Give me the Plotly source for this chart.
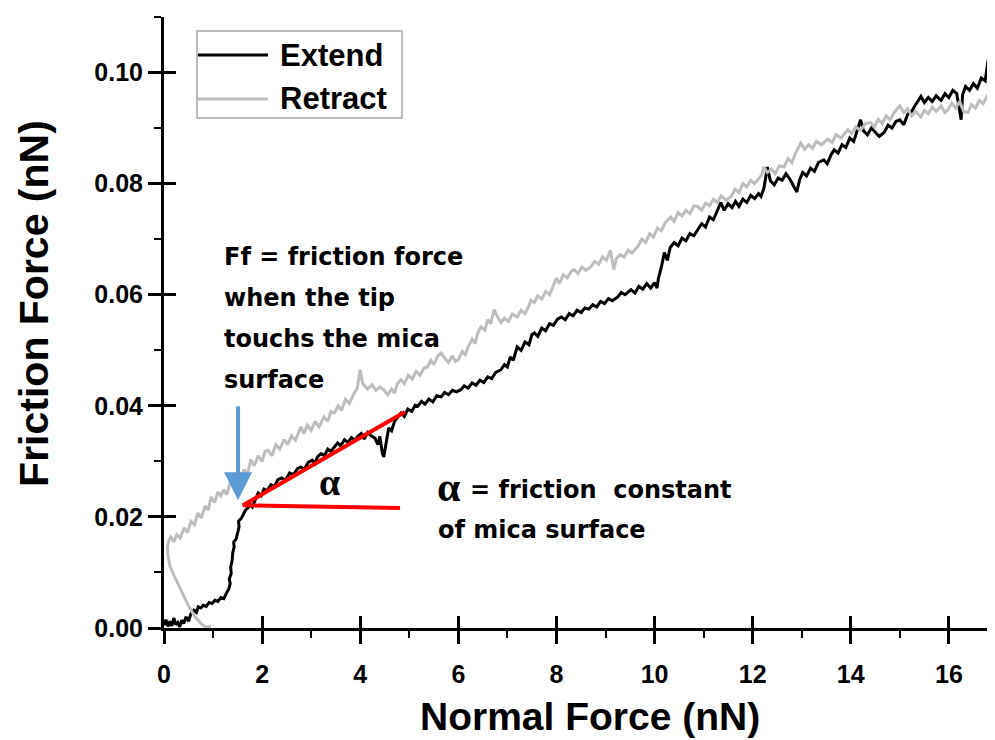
import plotly.graph_objects as go

# ---------------- data ----------------
extend_x = [0.00, 0.04, 0.08, 0.12, 0.16, 0.20, 0.24, 0.28, 0.32, 0.36, 0.40, 0.45, 0.50, 0.55, 0.61, 0.66, 0.70, 0.75,
            0.80, 0.86, 0.92, 0.98, 1.04, 1.10, 1.16, 1.22, 1.28, 1.32, 1.35, 1.33, 1.37, 1.36, 1.39, 1.40, 1.43, 1.42,
            1.47, 1.50, 1.53, 1.52, 1.58, 1.62, 1.66, 1.71, 1.76, 1.80, 1.86, 1.92, 1.98, 2.04, 2.10, 2.18, 2.25, 2.32,
            2.40, 2.48, 2.56, 2.64, 2.72, 2.79, 2.86, 2.94, 3.02, 3.08, 3.13, 3.20, 3.27, 3.34, 3.40, 3.47, 3.54, 3.60,
            3.68, 3.75, 3.82, 3.90, 3.95, 4.02, 4.08, 4.15, 4.22, 4.30, 4.36, 4.40, 4.45, 4.48, 4.52, 4.58, 4.64, 4.70,
            4.77, 4.83, 4.90, 4.97, 5.05, 5.12, 5.17, 5.25, 5.32, 5.40, 5.48, 5.56, 5.65, 5.72, 5.80, 5.88, 5.96, 6.05,
            6.12, 6.20, 6.28, 6.36, 6.44, 6.52, 6.60, 6.68, 6.76, 6.87, 6.94, 7.00, 7.06, 7.12, 7.20, 7.28, 7.36, 7.44,
            7.50, 7.55, 7.62, 7.70, 7.78, 7.86, 7.94, 8.02, 8.10, 8.18, 8.26, 8.34, 8.42, 8.50, 8.58, 8.66, 8.74, 8.82,
            8.90, 8.98, 9.06, 9.14, 9.25, 9.32, 9.40, 9.52, 9.60, 9.68, 9.76, 9.84, 9.92, 10.00, 10.05, 10.08, 10.14,
            10.20, 10.26, 10.32, 10.40, 10.48, 10.56, 10.64, 10.72, 10.80, 10.88, 10.96, 11.04, 11.12, 11.20, 11.28,
            11.35, 11.42, 11.50, 11.58, 11.65, 11.72, 11.80, 11.88, 11.96, 12.04, 12.12, 12.17, 12.23, 12.30, 12.36,
            12.44, 12.52, 12.60, 12.68, 12.76, 12.84, 12.90, 12.96, 13.02, 13.10, 13.18, 13.26, 13.34, 13.45, 13.52,
            13.60, 13.66, 13.74, 13.82, 13.90, 13.98, 14.06, 14.14, 14.20, 14.26, 14.34, 14.42, 14.50, 14.58, 14.68,
            14.76, 14.84, 14.92, 15.00, 15.08, 15.16, 15.24, 15.32, 15.43, 15.50, 15.58, 15.66, 15.74, 15.84, 15.92,
            16.00, 16.08, 16.16, 16.22, 16.25, 16.28, 16.34, 16.42, 16.50, 16.58, 16.66, 16.74, 16.80, 16.86, 16.92,
            16.98]
extend_y = [0.0005, 0.0015, 0.0003, 0.0012, 0.0004, 0.0018, 0.0006, 0.0010, 0.0002, 0.0014, 0.0008, 0.0020, 0.0012,
            0.0026, 0.0032, 0.0028, 0.0038, 0.0036, 0.0041, 0.0039, 0.0046, 0.0044, 0.0050, 0.0048, 0.0055, 0.0053,
            0.0064, 0.0070, 0.0080, 0.0088, 0.0098, 0.0110, 0.0122, 0.0135, 0.0146, 0.0155, 0.0160, 0.0172, 0.0182,
            0.0192, 0.0198, 0.0205, 0.0212, 0.0216, 0.0222, 0.0218, 0.0232, 0.0243, 0.0238, 0.0250, 0.0247, 0.0258,
            0.0255, 0.0267, 0.0270, 0.0266, 0.0279, 0.0276, 0.0287, 0.0290, 0.0286, 0.0298, 0.0302, 0.0296, 0.0308,
            0.0314, 0.0310, 0.0322, 0.0318, 0.0326, 0.0333, 0.0328, 0.0339, 0.0334, 0.0343, 0.0338, 0.0345, 0.0350,
            0.0340, 0.0352, 0.0346, 0.0342, 0.0330, 0.0345, 0.0315, 0.0308, 0.0330, 0.0360, 0.0355, 0.0372, 0.0380,
            0.0387, 0.0381, 0.0394, 0.0390, 0.0401, 0.0399, 0.0408, 0.0403, 0.0412, 0.0407, 0.0418, 0.0416, 0.0424,
            0.0420, 0.0428, 0.0425, 0.0429, 0.0436, 0.0432, 0.0441, 0.0437, 0.0446, 0.0442, 0.0452, 0.0449, 0.0460,
            0.0465, 0.0474, 0.0470, 0.0488, 0.0482, 0.0506, 0.0500, 0.0515, 0.0510, 0.0528, 0.0531, 0.0525, 0.0540,
            0.0535, 0.0548, 0.0545, 0.0556, 0.0560, 0.0555, 0.0566, 0.0562, 0.0572, 0.0568, 0.0576, 0.0574, 0.0582,
            0.0578, 0.0588, 0.0584, 0.0593, 0.0589, 0.0596, 0.0604, 0.0600, 0.0609, 0.0603, 0.0615, 0.0610, 0.0620,
            0.0612, 0.0622, 0.0612, 0.0630, 0.0650, 0.0676, 0.0662, 0.0685, 0.0694, 0.0688, 0.0702, 0.0697, 0.0710,
            0.0706, 0.0717, 0.0728, 0.0722, 0.0740, 0.0735, 0.0752, 0.0766, 0.0752, 0.0764, 0.0757, 0.0768, 0.0759,
            0.0772, 0.0766, 0.0779, 0.0773, 0.0782, 0.0777, 0.0792, 0.0830, 0.0805, 0.0798, 0.0810, 0.0806, 0.0818,
            0.0808, 0.0795, 0.0785, 0.0808, 0.0820, 0.0814, 0.0828, 0.0822, 0.0838, 0.0843, 0.0836, 0.0852, 0.0861,
            0.0855, 0.0870, 0.0865, 0.0882, 0.0876, 0.0898, 0.0915, 0.0895, 0.0888, 0.0900, 0.0893, 0.0885, 0.0892,
            0.0905, 0.0900, 0.0912, 0.0915, 0.0906, 0.0925, 0.0930, 0.0942, 0.0957, 0.0946, 0.0955, 0.0948, 0.0958,
            0.0950, 0.0962, 0.0955, 0.0968, 0.0962, 0.0930, 0.0915, 0.0960, 0.0975, 0.0968, 0.0980, 0.0972, 0.0990,
            0.0985, 0.1023, 0.0995, 0.0987, 0.0992]

retract_x = [0.96, 0.85, 0.75, 0.62, 0.50, 0.41, 0.30, 0.20, 0.12, 0.08, 0.07, 0.10, 0.14, 0.20, 0.26, 0.33, 0.41, 0.48,
             0.55, 0.62, 0.69, 0.76, 0.84, 0.90, 0.96, 1.03, 1.10, 1.16, 1.22, 1.28, 1.35, 1.42, 1.50, 1.56, 1.63, 1.70,
             1.77, 1.84, 1.92, 2.00, 2.06, 2.12, 2.20, 2.28, 2.36, 2.45, 2.52, 2.60, 2.68, 2.79, 2.85, 2.92, 3.00, 3.08,
             3.16, 3.26, 3.34, 3.40, 3.47, 3.55, 3.62, 3.70, 3.78, 3.86, 3.94, 4.00, 4.05, 4.15, 4.24, 4.32, 4.40, 4.48,
             4.56, 4.64, 4.70, 4.76, 4.83, 4.90, 4.98, 5.06, 5.14, 5.22, 5.30, 5.37, 5.44, 5.50, 5.58, 5.65, 5.72, 5.80,
             5.88, 5.94, 6.00, 6.08, 6.14, 6.20, 6.28, 6.34, 6.40, 6.46, 6.54, 6.60, 6.66, 6.73, 6.80, 6.87, 6.94, 7.02,
             7.10, 7.20, 7.28, 7.36, 7.44, 7.48, 7.55, 7.62, 7.70, 7.78, 7.86, 7.92, 8.00, 8.06, 8.14, 8.22, 8.30, 8.36,
             8.44, 8.52, 8.60, 8.70, 8.78, 8.86, 8.94, 9.02, 9.10, 9.14, 9.17, 9.22, 9.30, 9.38, 9.46, 9.54, 9.66, 9.74,
             9.82, 9.90, 9.98, 10.06, 10.14, 10.22, 10.33, 10.40, 10.48, 10.56, 10.64, 10.72, 10.80, 10.88, 10.96,
             11.04, 11.12, 11.20, 11.28, 11.36, 11.46, 11.56, 11.64, 11.72, 11.80, 11.88, 11.96, 12.04, 12.10, 12.18,
             12.23, 12.30, 12.38, 12.46, 12.54, 12.64, 12.72, 12.80, 12.88, 12.98, 13.06, 13.14, 13.22, 13.30, 13.40,
             13.53, 13.62, 13.70, 13.80, 13.94, 14.02, 14.10, 14.20, 14.30, 14.40, 14.48, 14.56, 14.64, 14.72, 14.80,
             14.90, 15.00, 15.08, 15.16, 15.24, 15.32, 15.43, 15.50, 15.58, 15.66, 15.74, 15.84, 15.92, 15.98, 16.06,
             16.14, 16.22, 16.30, 16.39, 16.46, 16.54, 16.62, 16.70, 16.78, 16.86, 16.94, 16.99]
retract_y = [0.0003, 0.0002, 0.0008, 0.0022, 0.0040, 0.0056, 0.0075, 0.0095, 0.0112, 0.0130, 0.0146, 0.0158, 0.0164,
             0.0155, 0.0168, 0.0162, 0.0180, 0.0172, 0.0192, 0.0186, 0.0207, 0.0198, 0.0220, 0.0212, 0.0236, 0.0226,
             0.0245, 0.0238, 0.0249, 0.0240, 0.0262, 0.0255, 0.0280, 0.0268, 0.0285, 0.0276, 0.0303, 0.0292, 0.0310,
             0.0300, 0.0318, 0.0320, 0.0310, 0.0330, 0.0322, 0.0339, 0.0330, 0.0346, 0.0338, 0.0362, 0.0350, 0.0365,
             0.0356, 0.0372, 0.0362, 0.0380, 0.0372, 0.0390, 0.0387, 0.0400, 0.0392, 0.0412, 0.0404, 0.0420, 0.0432,
             0.0465, 0.0440, 0.0430, 0.0438, 0.0428, 0.0434, 0.0429, 0.0420, 0.0430, 0.0423, 0.0440, 0.0447, 0.0440,
             0.0455, 0.0448, 0.0462, 0.0455, 0.0468, 0.0470, 0.0482, 0.0474, 0.0490, 0.0495, 0.0486, 0.0478, 0.0490,
             0.0480, 0.0483, 0.0498, 0.0492, 0.0506, 0.0520, 0.0512, 0.0532, 0.0542, 0.0536, 0.0555, 0.0548, 0.0573,
             0.0560, 0.0550, 0.0558, 0.0552, 0.0565, 0.0560, 0.0572, 0.0566, 0.0580, 0.0590, 0.0586, 0.0598, 0.0592,
             0.0606, 0.0600, 0.0614, 0.0630, 0.0620, 0.0636, 0.0630, 0.0642, 0.0645, 0.0638, 0.0650, 0.0644, 0.0650,
             0.0660, 0.0655, 0.0668, 0.0662, 0.0680, 0.0660, 0.0645, 0.0665, 0.0672, 0.0668, 0.0680, 0.0675, 0.0687,
             0.0700, 0.0694, 0.0710, 0.0704, 0.0720, 0.0715, 0.0730, 0.0740, 0.0732, 0.0748, 0.0742, 0.0752, 0.0746,
             0.0760, 0.0759, 0.0752, 0.0765, 0.0760, 0.0772, 0.0766, 0.0778, 0.0770, 0.0777, 0.0790, 0.0784, 0.0800,
             0.0794, 0.0806, 0.0800, 0.0807, 0.0815, 0.0830, 0.0820, 0.0826, 0.0818, 0.0832, 0.0830, 0.0845, 0.0838,
             0.0856, 0.0873, 0.0862, 0.0870, 0.0864, 0.0876, 0.0870, 0.0880, 0.0874, 0.0888, 0.0882, 0.0897, 0.0890,
             0.0902, 0.0896, 0.0908, 0.0910, 0.0902, 0.0916, 0.0908, 0.0922, 0.0915, 0.0930, 0.0940, 0.0928, 0.0935,
             0.0922, 0.0930, 0.0920, 0.0932, 0.0926, 0.0938, 0.0930, 0.0940, 0.0928, 0.0933, 0.0945, 0.0936, 0.0948,
             0.0930, 0.0928, 0.0942, 0.0936, 0.0950, 0.0944, 0.0958, 0.0957, 0.0948, 0.0955]

series_names = ["Extend", "Retract"]
series_colors = ["black", "#bdbdbd"]

# angle construction (red lines), arrow and annotation anchor points, in data units
alpha_line_x = [4.91, 1.61, 4.81]
alpha_line_y = [0.0389, 0.0221, 0.0216]
arrow_x = 1.51
arrow_tail_y = 0.0402
arrow_tip_y = 0.0230

ff_lines = ["Ff = friction force", "when the tip", "touchs the mica", "surface"]
ff_line_y = [0.0668, 0.0594, 0.0521, 0.0447]
ff_x = 1.18

x_ticks = [0, 2, 4, 6, 8, 10, 12, 14, 16]
y_ticks = [0.00, 0.02, 0.04, 0.06, 0.08, 0.10]
x_range = [0, 16.94]
y_range = [0, 0.11]

SANS = "Liberation Sans, Arial, sans-serif"
NOTE = "DejaVu Sans, Verdana, sans-serif"
SERIF = "Liberation Serif, Times New Roman, serif"

fig = go.Figure()
fig.add_trace(go.Scatter(x=extend_x, y=extend_y, mode="lines", name=series_names[0], showlegend=False,
                         line=dict(color=series_colors[0], width=3)))
fig.add_trace(go.Scatter(x=retract_x, y=retract_y, mode="lines", name=series_names[1], showlegend=False,
                         line=dict(color=series_colors[1], width=3)))
fig.add_trace(go.Scatter(x=alpha_line_x, y=alpha_line_y, mode="lines", showlegend=False,
                         line=dict(color="#ff0000", width=4), hoverinfo="skip"))
# helper trace so the overlay axes (inner half of crossing ticks) are drawn
fig.add_trace(go.Scatter(x=[None], y=[None], xaxis="x2", yaxis="y2", showlegend=False, hoverinfo="skip"))

axis_common = dict(showgrid=False, zeroline=False, showline=True, linecolor="black", linewidth=3,
                   ticks="outside", tickcolor="black", tickwidth=2.5, ticklen=13,
                   tickfont=dict(family=SANS, size=25, color="black", weight="bold"))

# the page body adds an 8px offset, so the figure is 8px smaller and margins are shifted by 8px
fig.update_layout(
    width=987, height=732,
    margin=dict(l=156, r=0, t=9, b=112),
    plot_bgcolor="white", paper_bgcolor="white",
    xaxis=dict(**axis_common, range=x_range, tickvals=x_ticks, ticktext=[str(v) for v in x_ticks],
               ticklabelstandoff=9,
               minor=dict(ticks="outside", ticklen=7, tickwidth=2, tickcolor="black", dtick=1, tick0=1)),
    yaxis=dict(**axis_common, range=y_range, tickvals=y_ticks, ticktext=["%.2f" % v for v in y_ticks],
               minor=dict(ticks="outside", ticklen=7, tickwidth=2, tickcolor="black", dtick=0.01, tick0=0.01)),
    xaxis2=dict(overlaying="x", anchor="y", side="bottom", range=x_range, tickvals=x_ticks,
                ticks="inside", ticklen=12, tickwidth=2.5, tickcolor="black",
                showticklabels=False, showline=False, showgrid=False, zeroline=False),
    yaxis2=dict(overlaying="y", anchor="x", side="left", range=y_range, tickvals=y_ticks,
                ticks="inside", ticklen=12, tickwidth=2.5, tickcolor="black",
                showticklabels=False, showline=False, showgrid=False, zeroline=False),
    showlegend=False,
)

annotations = []
# axis titles
annotations.append(dict(x=0.513, y=-0.145, xref="paper", yref="paper", text="Normal Force (nN)",
                        showarrow=False, xanchor="center", yanchor="middle",
                        font=dict(family=SANS, size=39, color="black", weight="bold")))
annotations.append(dict(x=-0.1565, y=0.532, xref="paper", yref="paper", text="Friction Force (nN)",
                        showarrow=False, textangle=-90, xanchor="center", yanchor="middle",
                        font=dict(family=SANS, size=41, color="black", weight="bold")))
# legend (drawn as box + sample lines + labels)
legend_shapes = [
    dict(type="rect", xref="paper", yref="paper", x0=0.0397, x1=0.2864, y0=0.8347, y1=0.9771,
         line=dict(color="#a8a8a8", width=1.5), fillcolor="white", layer="above"),
    dict(type="line", xref="paper", yref="paper", x0=0.0409, x1=0.1251, y0=0.9378, y1=0.9378,
         line=dict(color=series_colors[0], width=3), layer="above"),
    dict(type="line", xref="paper", yref="paper", x0=0.0409, x1=0.1251, y0=0.8658, y1=0.8658,
         line=dict(color=series_colors[1], width=3), layer="above"),
]
for name, yy in zip(series_names, [0.9378, 0.8658]):
    annotations.append(dict(x=0.1372, y=yy, xref="paper", yref="paper", text=name, showarrow=False,
                            xanchor="left", yanchor="middle",
                            font=dict(family=SANS, size=31, color="black", weight="bold")))
# Ff note
for txt, yy in zip(ff_lines, ff_line_y):
    annotations.append(dict(x=ff_x, y=yy, xref="x", yref="y", text=txt, showarrow=False,
                            xanchor="left", yanchor="middle",
                            font=dict(family=NOTE, size=24, color="black", weight="bold")))
# blue arrow
annotations.append(dict(x=arrow_x, y=arrow_tip_y, ax=arrow_x, ay=arrow_tail_y, xref="x", yref="y",
                        axref="x", ayref="y", showarrow=True, arrowhead=2, arrowsize=1.4,
                        arrowwidth=4, arrowcolor="#5b9bd5", text=""))
# alpha at the angle
annotations.append(dict(x=3.38, y=0.0263, xref="x", yref="y", text="α", showarrow=False,
                        font=dict(family=SERIF, size=38, color="black", weight="bold")))
# alpha definition
annotations.append(dict(x=5.81, y=0.0254, xref="x", yref="y", text="α", showarrow=False,
                        font=dict(family=SERIF, size=42, color="black", weight="bold")))
annotations.append(dict(x=6.2, y=0.0249, xref="x", yref="y", text="= friction\u00a0 constant", showarrow=False,
                        xanchor="left", yanchor="middle",
                        font=dict(family=NOTE, size=24, color="black", weight="bold")))
annotations.append(dict(x=5.54, y=0.0176, xref="x", yref="y", text="of mica surface", showarrow=False,
                        xanchor="left", yanchor="middle",
                        font=dict(family=NOTE, size=24, color="black", weight="bold")))
fig.update_layout(annotations=annotations, shapes=legend_shapes)

fig.write_html("out.html")
